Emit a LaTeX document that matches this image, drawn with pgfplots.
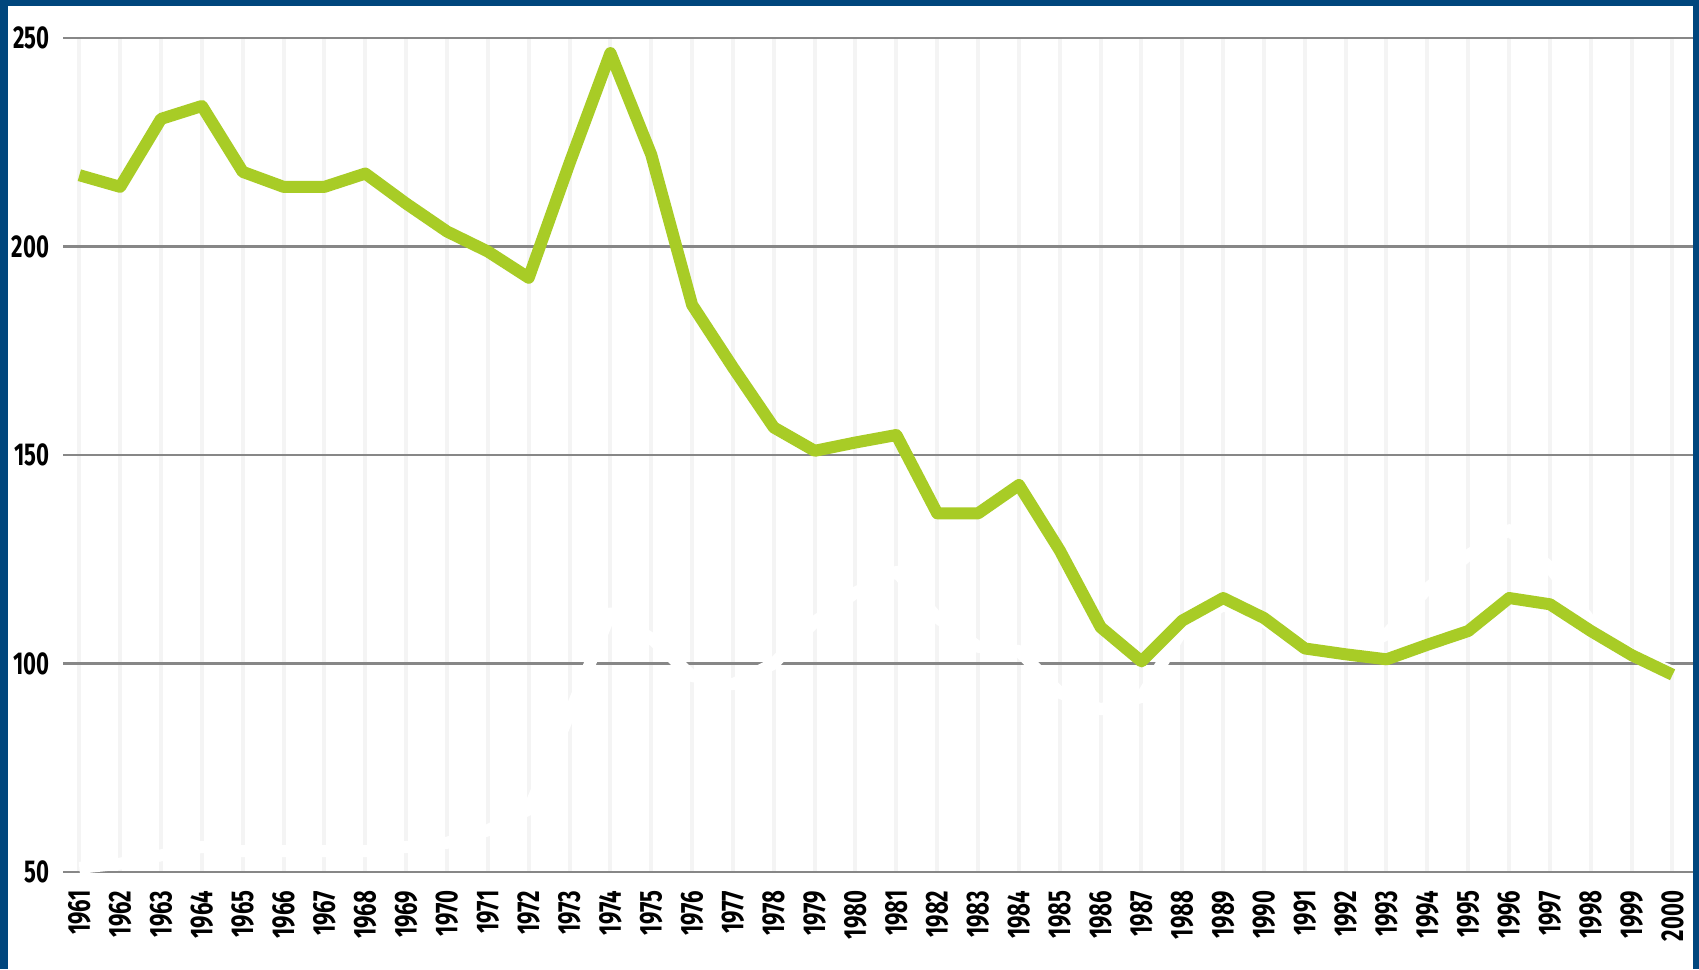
\documentclass[border=0pt]{standalone}
\usepackage{pgfplots}
\pgfplotsset{compat=1.18}
\usepackage{fontspec}
\setmainfont{Fira Sans}[FakeStretch=0.70]
\definecolor{frameblue}{RGB}{0,70,125}
\definecolor{limegreen}{RGB}{168,204,38}
\definecolor{hgrid}{RGB}{135,135,135}
\definecolor{vgrid}{RGB}{244,244,244}
\begin{document}
\begin{tikzpicture}
\fill[frameblue] (0,0) rectangle (169.9mm,96.9mm);
\fill[white] (0.8mm,0) rectangle (169.3mm,96.3mm);
\begin{axis}[
  at={(6.3mm,9.7mm)}, anchor=south west,
  scale only axis, width=163mm, height=83.4mm,
  xmin=1960.6, xmax=2000.5, ymin=50, ymax=250,
  axis line style={draw=none},
  major tick length=0pt,
  xtick={1961,1962,...,2000},
  ytick={50,100,150,200,250},
  xmajorgrids, ymajorgrids,
  x grid style={vgrid, line width=0.4mm},
  y grid style={hgrid, line width=0.6pt},
  /pgf/number format/1000 sep={},
  /pgf/number format/assume math mode=true,
  tick label style={font=\fontsize{9}{10}\selectfont\bfseries},
  xticklabel style={rotate=90, anchor=east, inner sep=0pt},
  xticklabel shift=1.8mm,
  yticklabel style={anchor=east, inner sep=0pt},
  yticklabel shift=1.3mm,
  clip=false,
]
\addplot[white, line width=1.2mm, line join=round] coordinates {
(1961,51) (1962,52) (1963,54) (1964,56) (1965,55) (1966,55) (1967,55) (1968,55)
(1969,56) (1970,57) (1971,60) (1972,65) (1973,88) (1974,112) (1975,106) (1976,97)
(1977,95) (1978,100) (1979,110) (1980,117) (1981,122) (1982,111) (1983,104) (1984,103)
(1985,93) (1986,89) (1987,92) (1988,108) (1989,114) (1990,110) (1991,104) (1992,102)
(1993,107) (1994,118) (1995,126) (1996,132) (1997,123) (1998,110) (1999,102) (2000,98)
};
\addplot[limegreen, line width=1.2mm, line join=round] coordinates {
(1961,217.1) (1962,214.3) (1963,230.6) (1964,233.7) (1965,217.9) (1966,214.3) (1967,214.3) (1968,217.5)
(1969,210.3) (1970,203.6) (1971,198.8) (1972,192.5) (1973,220) (1974,246.4) (1975,222) (1976,186)
(1977,171) (1978,156.6) (1979,151) (1980,153) (1981,154.8) (1982,136) (1983,136) (1984,142.8)
(1985,127.1) (1986,108.7) (1987,100.5) (1988,110.3) (1989,115.7) (1990,110.9) (1991,103.6) (1992,102.2)
(1993,101) (1994,104.5) (1995,107.8) (1996,115.7) (1997,114.2) (1998,107.8) (1999,102) (2000,97.3)
};
\end{axis}
\pgfresetboundingbox
\useasboundingbox (0,0) rectangle (169.9mm,96.9mm);
\end{tikzpicture}
\end{document}
